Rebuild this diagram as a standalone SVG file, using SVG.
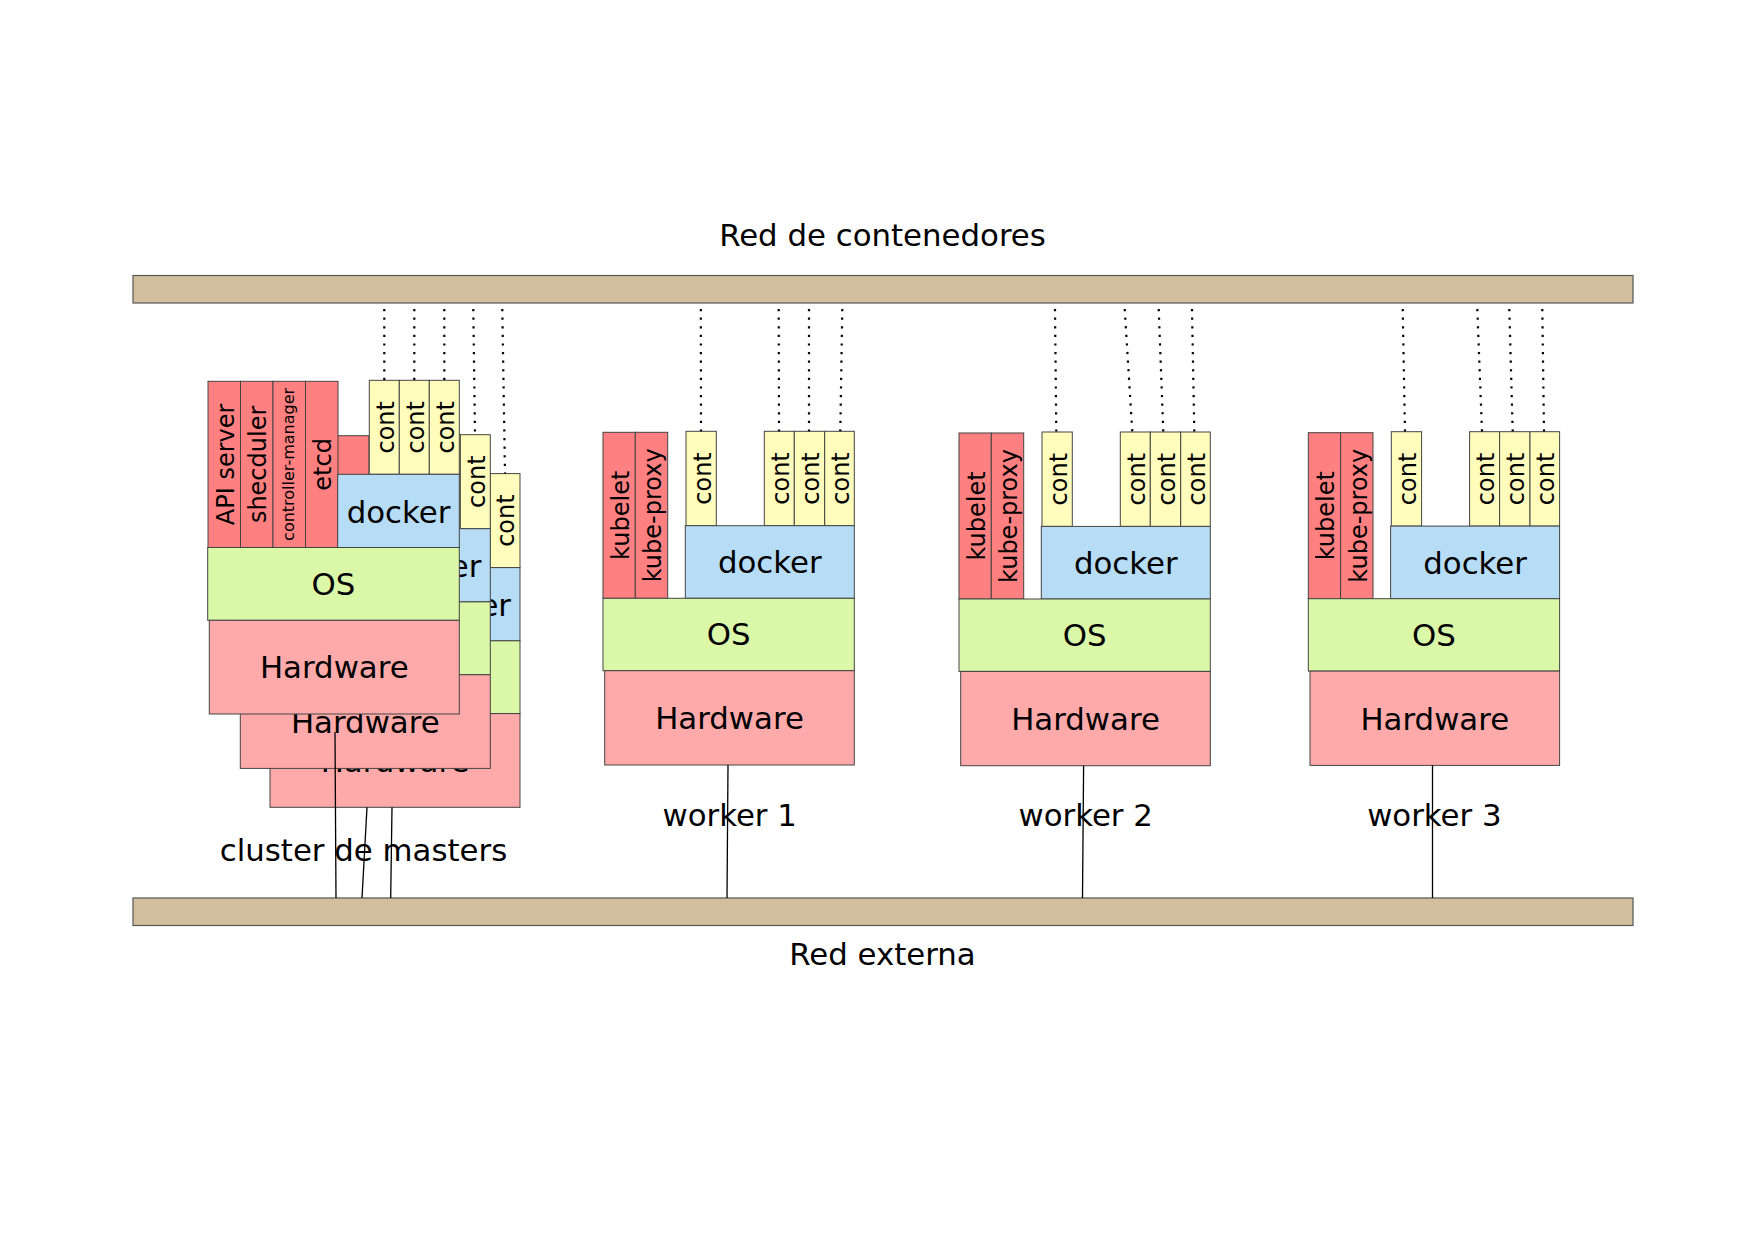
<svg xmlns="http://www.w3.org/2000/svg" width="1754" height="1240" viewBox="0 0 1754 1240">
<style>
  text { font-family: "DejaVu Sans", "Liberation Sans", sans-serif; fill: #000; }
  .big { font-size: 30.8px; text-anchor: middle; }
  .col { font-size: 24px; text-anchor: middle; }
  .small { font-size: 16px; text-anchor: middle; }
  .bar { fill: #d2bf9d; stroke: #555; stroke-width: 1.2; }
  .red { fill: #ff8080; stroke: #444; stroke-width: 1; }
  .cont { fill: #fffcbc; stroke: #444; stroke-width: 1; }
  .docker { fill: #b7dcf6; stroke: #444; stroke-width: 1; }
  .os { fill: #daf8a8; stroke: #444; stroke-width: 1; }
  .hw { fill: #ffaaaa; stroke: #444; stroke-width: 1; }
  .link { stroke: #000; stroke-width: 1.3; fill: none; }
  .dot { stroke: #000; stroke-width: 2.2; stroke-dasharray: 2.2 6.4; fill: none; }
</style>
<rect width="1754" height="1240" fill="#fff"/>

<g id="red-contenedores">
  <rect class="bar" x="133" y="275.5" width="1500" height="27.5"/>
  <text class="big" x="882.5" y="246">Red de contenedores</text>
</g>
<g id="red-externa">
  <rect class="bar" x="133" y="898" width="1500" height="27.5"/>
  <text class="big" x="882.5" y="965">Red externa</text>
</g>

<!-- master 3 (back) -->
<g id="master3" transform="translate(60.7,93.3)">
  <rect class="red" x="208" y="381.3" width="32.5" height="166.2"/>
  <rect class="red" x="240.5" y="381.3" width="32.5" height="166.2"/>
  <rect class="red" x="273" y="381.3" width="32.5" height="166.2"/>
  <rect class="red" x="305.5" y="381.3" width="32.5" height="166.2"/>
  <rect class="cont" x="369.3" y="380.3" width="30" height="94"/>
  <rect class="cont" x="399.3" y="380.3" width="30" height="94"/>
  <rect class="cont" x="429.3" y="380.3" width="30" height="94"/>
  <text class="col" x="453.8" y="427.3" transform="rotate(-90 453.8 427.3)">cont</text>
  <rect class="docker" x="337.7" y="474.3" width="121.6" height="73.2"/>
  <text class="big" x="398.5" y="522.7">docker</text>
  <rect class="os" x="207.7" y="547.5" width="251.6" height="72.8"/>
  <rect class="hw" x="209.3" y="620.3" width="250" height="93.7"/>
  <text class="big" x="334.3" y="678.3">Hardware</text>
</g>

<!-- master 2 (middle) -->
<g id="master2" transform="translate(31,54.4)">
  <rect class="red" x="208" y="381.3" width="32.5" height="166.2"/>
  <rect class="red" x="240.5" y="381.3" width="32.5" height="166.2"/>
  <rect class="red" x="273" y="381.3" width="32.5" height="166.2"/>
  <rect class="red" x="305.5" y="381.3" width="32.5" height="166.2"/>
  <rect class="cont" x="369.3" y="380.3" width="30" height="94"/>
  <rect class="cont" x="399.3" y="380.3" width="30" height="94"/>
  <rect class="cont" x="429.3" y="380.3" width="30" height="94"/>
  <text class="col" x="453.8" y="427.3" transform="rotate(-90 453.8 427.3)">cont</text>
  <rect class="docker" x="337.7" y="474.3" width="121.6" height="73.2"/>
  <text class="big" x="398.5" y="522.7">docker</text>
  <rect class="os" x="207.7" y="547.5" width="251.6" height="72.8"/>
  <rect class="hw" x="209.3" y="620.3" width="250" height="93.7"/>
  <text class="big" x="334.3" y="678.3">Hardware</text>
</g>

<!-- master 1 (front) -->
<g id="master1">
  <rect class="red" x="208" y="381.3" width="32.5" height="166.2"/>
  <rect class="red" x="240.5" y="381.3" width="32.5" height="166.2"/>
  <rect class="red" x="273" y="381.3" width="32.5" height="166.2"/>
  <rect class="red" x="305.5" y="381.3" width="32.5" height="166.2"/>
  <text class="col" x="233.7" y="464.4" transform="rotate(-90 233.7 464.4)">API server</text>
  <text class="col" x="266.5" y="464.4" transform="rotate(-90 266.5 464.4)">shecduler</text>
  <text class="small" x="294.5" y="464.4" transform="rotate(-90 294.5 464.4)">controller-manager</text>
  <text class="col" x="331.5" y="464.4" transform="rotate(-90 331.5 464.4)">etcd</text>
  <rect class="cont" x="369.3" y="380.3" width="30" height="94"/>
  <rect class="cont" x="399.3" y="380.3" width="30" height="94"/>
  <rect class="cont" x="429.3" y="380.3" width="30" height="94"/>
  <text class="col" x="393.8" y="427.3" transform="rotate(-90 393.8 427.3)">cont</text>
  <text class="col" x="423.8" y="427.3" transform="rotate(-90 423.8 427.3)">cont</text>
  <text class="col" x="453.8" y="427.3" transform="rotate(-90 453.8 427.3)">cont</text>
  <rect class="docker" x="337.7" y="474.3" width="121.6" height="73.2"/>
  <text class="big" x="398.5" y="522.7">docker</text>
  <rect class="os" x="207.7" y="547.5" width="251.6" height="72.8"/>
  <text class="big" x="333.5" y="595">OS</text>
  <rect class="hw" x="209.3" y="620.3" width="250" height="93.7"/>
  <text class="big" x="334.3" y="678.3">Hardware</text>
</g>
<text id="label-masters" class="big" x="363.5" y="861">cluster de masters</text>

<!-- worker 1 -->
<g id="worker1">
  <rect class="red" x="603" y="432.3" width="32.3" height="166"/>
  <rect class="red" x="635.3" y="432.3" width="32.4" height="166"/>
  <text class="col" x="629" y="515.3" transform="rotate(-90 629 515.3)">kubelet</text>
  <text class="col" x="661.4" y="515.3" transform="rotate(-90 661.4 515.3)">kube-proxy</text>
  <rect class="cont" x="686" y="431.3" width="30.3" height="94.4"/>
  <text class="col" x="710.5" y="478.5" transform="rotate(-90 710.5 478.5)">cont</text>
  <rect class="cont" x="764.3" y="431.3" width="30" height="94.4"/>
  <rect class="cont" x="794.3" y="431.3" width="30.4" height="94.4"/>
  <rect class="cont" x="824.7" y="431.3" width="29.6" height="94.4"/>
  <text class="col" x="788.8" y="478.5" transform="rotate(-90 788.8 478.5)">cont</text>
  <text class="col" x="818.8" y="478.5" transform="rotate(-90 818.8 478.5)">cont</text>
  <text class="col" x="849" y="478.5" transform="rotate(-90 849 478.5)">cont</text>
  <rect class="docker" x="685.3" y="525.7" width="169" height="72.6"/>
  <text class="big" x="769.8" y="573.3">docker</text>
  <rect class="os" x="603" y="598.3" width="251.3" height="72.4"/>
  <text class="big" x="728.7" y="645.3">OS</text>
  <rect class="hw" x="604.7" y="670.7" width="249.6" height="94.3"/>
  <text class="big" x="729.5" y="729.3">Hardware</text>
  <text class="big" x="729.7" y="825.7">worker 1</text>
</g>

<!-- worker 2 -->
<g id="worker2" transform="translate(356,0.7)">
  <rect class="red" x="603" y="432.3" width="32.3" height="166"/>
  <rect class="red" x="635.3" y="432.3" width="32.4" height="166"/>
  <text class="col" x="629" y="515.3" transform="rotate(-90 629 515.3)">kubelet</text>
  <text class="col" x="661.4" y="515.3" transform="rotate(-90 661.4 515.3)">kube-proxy</text>
  <rect class="cont" x="686" y="431.3" width="30.3" height="94.4"/>
  <text class="col" x="710.5" y="478.5" transform="rotate(-90 710.5 478.5)">cont</text>
  <rect class="cont" x="764.3" y="431.3" width="30" height="94.4"/>
  <rect class="cont" x="794.3" y="431.3" width="30.4" height="94.4"/>
  <rect class="cont" x="824.7" y="431.3" width="29.6" height="94.4"/>
  <text class="col" x="788.8" y="478.5" transform="rotate(-90 788.8 478.5)">cont</text>
  <text class="col" x="818.8" y="478.5" transform="rotate(-90 818.8 478.5)">cont</text>
  <text class="col" x="849" y="478.5" transform="rotate(-90 849 478.5)">cont</text>
  <rect class="docker" x="685.3" y="525.7" width="169" height="72.6"/>
  <text class="big" x="769.8" y="573.3">docker</text>
  <rect class="os" x="603" y="598.3" width="251.3" height="72.4"/>
  <text class="big" x="728.7" y="645.3">OS</text>
  <rect class="hw" x="604.7" y="670.7" width="249.6" height="94.3"/>
  <text class="big" x="729.5" y="729.3">Hardware</text>
  <text class="big" x="729.7" y="825">worker 2</text>
</g>

<!-- worker 3 -->
<g id="worker3" transform="translate(705.3,0.4)">
  <rect class="red" x="603" y="432.3" width="32.3" height="166"/>
  <rect class="red" x="635.3" y="432.3" width="32.4" height="166"/>
  <text class="col" x="629" y="515.3" transform="rotate(-90 629 515.3)">kubelet</text>
  <text class="col" x="661.4" y="515.3" transform="rotate(-90 661.4 515.3)">kube-proxy</text>
  <rect class="cont" x="686" y="431.3" width="30.3" height="94.4"/>
  <text class="col" x="710.5" y="478.5" transform="rotate(-90 710.5 478.5)">cont</text>
  <rect class="cont" x="764.3" y="431.3" width="30" height="94.4"/>
  <rect class="cont" x="794.3" y="431.3" width="30.4" height="94.4"/>
  <rect class="cont" x="824.7" y="431.3" width="29.6" height="94.4"/>
  <text class="col" x="788.8" y="478.5" transform="rotate(-90 788.8 478.5)">cont</text>
  <text class="col" x="818.8" y="478.5" transform="rotate(-90 818.8 478.5)">cont</text>
  <text class="col" x="849" y="478.5" transform="rotate(-90 849 478.5)">cont</text>
  <rect class="docker" x="685.3" y="525.7" width="169" height="72.6"/>
  <text class="big" x="769.8" y="573.3">docker</text>
  <rect class="os" x="603" y="598.3" width="251.3" height="72.4"/>
  <text class="big" x="728.7" y="645.3">OS</text>
  <rect class="hw" x="604.7" y="670.7" width="249.6" height="94.3"/>
  <text class="big" x="729.5" y="729.3">Hardware</text>
  <text class="big" x="729.1" y="825.3">worker 3</text>
</g>

<g id="connectors">
  <!-- container network (dotted) -->
  <line class="dot" x1="384.3" y1="309" x2="384.3" y2="380.3"/>
  <line class="dot" x1="414.3" y1="309" x2="414.3" y2="380.3"/>
  <line class="dot" x1="444.3" y1="309" x2="444.3" y2="380.3"/>
  <line class="dot" x1="473.3" y1="309" x2="475" y2="434.7"/>
  <line class="dot" x1="502.3" y1="309" x2="505" y2="473.6"/>
  <line class="dot" x1="700.8" y1="309" x2="701" y2="431.3"/>
  <line class="dot" x1="778.7" y1="309" x2="779" y2="431.3"/>
  <line class="dot" x1="809" y1="309" x2="809" y2="431.3"/>
  <line class="dot" x1="842.3" y1="309" x2="840.3" y2="431.3"/>
  <line class="dot" x1="1055" y1="309" x2="1056.3" y2="432"/>
  <line class="dot" x1="1124.7" y1="309" x2="1132.3" y2="432"/>
  <line class="dot" x1="1158.7" y1="309" x2="1163.3" y2="432"/>
  <line class="dot" x1="1192" y1="309" x2="1194.3" y2="432"/>
  <line class="dot" x1="1402.7" y1="309" x2="1405" y2="431.7"/>
  <line class="dot" x1="1477.3" y1="309" x2="1482" y2="431.7"/>
  <line class="dot" x1="1509.3" y1="309" x2="1512.7" y2="431.7"/>
  <line class="dot" x1="1542.3" y1="309" x2="1544" y2="431.7"/>
  <!-- external network (solid) -->
  <line class="link" x1="335" y1="732" x2="336" y2="898"/>
  <line class="link" x1="367" y1="807.3" x2="362" y2="898"/>
  <line class="link" x1="392" y1="807.3" x2="390.7" y2="898"/>
  <line class="link" x1="728" y1="765" x2="727" y2="898"/>
  <line class="link" x1="1083.6" y1="765.7" x2="1082.5" y2="898"/>
  <line class="link" x1="1432.5" y1="765.3" x2="1432.5" y2="898"/>
</g>
</svg>
